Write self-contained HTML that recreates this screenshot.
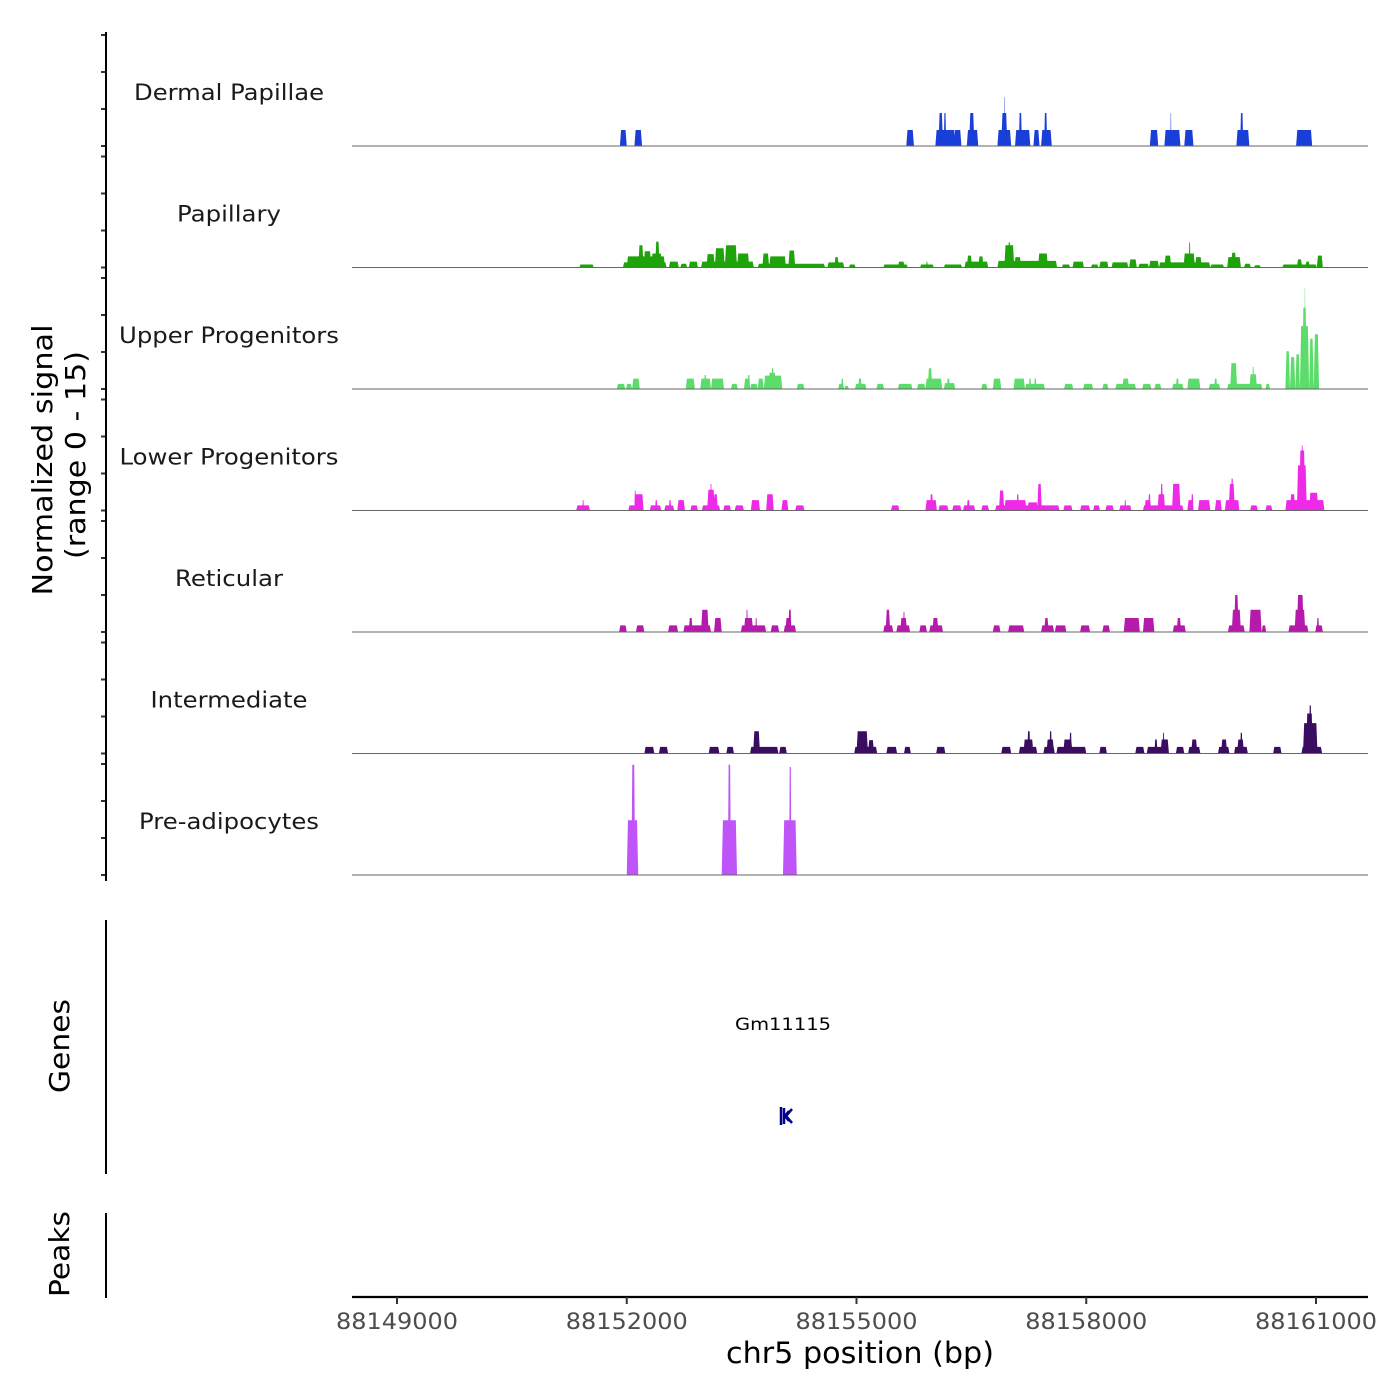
<!DOCTYPE html>
<html><head><meta charset="utf-8"><style>
html,body{margin:0;padding:0;background:#fff;}
svg{display:block;font-family:"DejaVu Sans","Liberation Sans",sans-serif;}
</style></head><body>
<svg id="chart" width="1400" height="1400" viewBox="0 0 1400 1400">
<g id="tracks"></g>
<g id="axes"></g>
<text x="0" y="0" transform="translate(52,460) rotate(-90)" text-anchor="middle" font-size="28" fill="#000" textLength="271" lengthAdjust="spacingAndGlyphs">Normalized signal</text>
<text x="0" y="0" transform="translate(85,455) rotate(-90)" text-anchor="middle" font-size="28" fill="#000" textLength="208" lengthAdjust="spacingAndGlyphs">(range 0 - 15)</text>
<text x="0" y="0" transform="translate(69,1046) rotate(-90)" text-anchor="middle" font-size="28" fill="#000" textLength="94" lengthAdjust="spacingAndGlyphs">Genes</text>
<text x="0" y="0" transform="translate(69,1254) rotate(-90)" text-anchor="middle" font-size="28" fill="#000" textLength="86" lengthAdjust="spacingAndGlyphs">Peaks</text>
<line x1="106" y1="920" x2="106" y2="1174" stroke="#000" stroke-width="2"/>
<line x1="106" y1="1213" x2="106" y2="1298" stroke="#000" stroke-width="2"/>
<text x="783" y="1030" text-anchor="middle" font-size="17" fill="#000" textLength="96" lengthAdjust="spacingAndGlyphs">Gm11115</text>
<g stroke="#00008b" stroke-width="2.5" fill="none">
<line x1="781" y1="1107" x2="781" y2="1125"/>
<line x1="784" y1="1108" x2="784" y2="1124"/>
<polyline points="792,1109 786,1116 792,1123"/>
<polyline points="789,1111 785,1116 789,1121"/>
</g>
<text x="860" y="1363" text-anchor="middle" font-size="29" fill="#000" textLength="268" lengthAdjust="spacingAndGlyphs">chr5 position (bp)</text>
</svg>
<script>
const trackNames = ["Dermal Papillae","Papillary","Upper Progenitors","Lower Progenitors","Reticular","Intermediate","Pre-adipocytes"];
const trackColors = ["#1a3fd9","#1fa30a","#5cdc6a","#ee2ae8","#b51aab","#3b0d60","#bf55f8"];
const labelWidths = [190,104,220,219,108,157,180];
const xTicks = [88149000,88152000,88155000,88158000,88161000];
const yTicks = [0,5,10,15];
// blocks: [start kb, end kb, value]
const dermal = [[88151.91,88152.00,2.16],[88152.10,88152.20,2.16],[88155.65,88155.75,2.16],[88156.03,88156.29,2.16],[88156.07,88156.13,4.46],[88156.14,88156.17,4.46],[88156.27,88156.37,2.16],[88156.44,88156.59,2.16],[88156.47,88156.54,4.46],[88156.84,88157.02,2.16],[88156.89,88156.97,4.46],[88156.93,88156.94,6.62],[88157.07,88157.27,2.16],[88157.12,88157.16,4.46],[88157.31,88157.39,2.16],[88157.41,88157.55,2.16],[88157.45,88157.49,4.46],[88158.83,88158.94,2.16],[88159.02,88159.23,2.16],[88159.10,88159.11,4.46],[88159.28,88159.40,2.16],[88159.96,88160.13,2.16],[88160.01,88160.05,4.46],[88160.74,88160.95,2.16]];
const papillary = [[88151.38,88151.57,0.4],[88151.95,88152.52,0.7],[88152.00,88152.50,1.5],[88152.15,88152.22,3.0],[88152.22,88152.32,2.2],[88152.37,88152.43,3.5],[88152.32,88152.46,1.9],[88152.55,88152.68,0.8],[88152.70,88152.79,0.5],[88152.81,88152.93,0.8],[88152.97,88153.66,0.8],[88153.04,88153.15,1.8],[88153.15,88153.28,2.6],[88153.28,88153.44,3.0],[88153.44,88153.60,1.9],[88153.71,88154.59,0.5],[88153.77,88153.86,1.9],[88153.86,88154.08,1.5],[88154.11,88154.20,2.3],[88154.62,88154.84,0.7],[88154.71,88154.77,1.4],[88154.90,88154.99,0.4],[88155.35,88155.67,0.4],[88155.54,88155.63,0.8],[88155.83,88156.01,0.4],[88155.91,88155.93,0.8],[88156.14,88156.38,0.4],[88156.41,88156.72,0.8],[88156.44,88156.51,1.6],[88156.59,88156.66,1.5],[88156.84,88157.62,0.9],[88156.93,88157.06,3.0],[88156.98,88157.01,3.4],[88157.06,88157.15,1.4],[88157.33,88157.59,0.8],[88157.37,88157.50,1.9],[88157.68,88157.79,0.4],[88157.82,88157.97,0.8],[88158.06,88158.16,0.4],[88158.17,88158.29,0.8],[88158.33,88158.55,0.7],[88158.56,88158.66,1.1],[88158.68,88158.82,0.5],[88158.82,88158.95,0.9],[88158.95,88159.62,0.7],[88159.02,88159.11,1.6],[88159.27,88159.42,1.9],[88159.34,88159.36,3.4],[88159.42,88159.51,1.4],[88159.62,88159.80,0.4],[88159.84,88160.02,1.4],[88159.89,88159.96,2.0],[88160.06,88160.15,0.5],[88160.19,88160.28,0.3],[88160.56,88161.01,0.4],[88160.75,88160.82,1.1],[88160.86,88160.92,0.8],[88161.01,88161.09,1.6]];
const upper = [[88151.87,88151.98,0.7],[88151.99,88152.07,0.7],[88152.07,88152.17,1.4],[88152.77,88152.89,1.4],[88152.96,88153.10,1.4],[88153.01,88153.04,1.9],[88153.10,88153.27,1.4],[88153.36,88153.45,0.7],[88153.53,88153.61,1.4],[88153.58,88153.61,1.9],[88153.61,88153.71,0.7],[88153.71,88153.79,1.4],[88153.79,88154.03,1.8],[88153.85,88153.95,2.2],[88153.89,88153.92,2.8],[88154.22,88154.32,0.7],[88154.76,88154.84,0.7],[88154.80,88154.83,1.4],[88154.84,88154.90,0.4],[88154.98,88155.13,0.7],[88155.02,88155.07,1.4],[88155.26,88155.36,0.7],[88155.54,88155.73,0.7],[88155.79,88155.90,0.7],[88155.90,88156.12,1.4],[88155.93,88155.99,2.8],[88156.14,88156.29,0.8],[88156.18,88156.22,1.4],[88156.63,88156.71,0.7],[88156.78,88156.89,1.4],[88157.05,88157.20,1.4],[88157.20,88157.46,0.7],[88157.25,88157.28,1.4],[88157.32,88157.35,1.4],[88157.71,88157.83,0.7],[88157.96,88158.09,0.7],[88158.21,88158.29,0.7],[88158.38,88158.65,0.7],[88158.47,88158.56,1.4],[88158.73,88158.85,0.7],[88158.89,88158.98,0.7],[88159.12,88159.27,0.7],[88159.17,88159.21,1.4],[88159.32,88159.49,1.4],[88159.60,88159.75,0.7],[88159.67,88159.71,1.4],[88159.84,88160.30,0.7],[88159.88,88159.97,3.5],[88160.13,88160.23,2.0],[88160.17,88160.19,3.0],[88160.34,88160.40,0.7],[88160.60,88160.66,5.1],[88160.66,88160.73,4.3],[88160.73,88160.79,4.7],[88160.79,88160.91,8.5],[88160.82,88160.88,11.0],[88160.85,88160.86,13.6],[88160.91,88160.97,6.8],[88160.97,88161.04,7.4]];
const lower = [[88151.34,88151.52,0.7],[88151.42,88151.44,1.4],[88152.02,88152.22,0.7],[88152.10,88152.22,2.2],[88152.10,88152.12,2.7],[88152.30,88152.45,0.7],[88152.37,88152.40,1.4],[88152.49,88152.62,0.7],[88152.55,88152.58,1.4],[88152.66,88152.76,1.4],[88152.83,88152.93,0.7],[88152.98,88153.22,0.7],[88153.05,88153.15,2.8],[88153.09,88153.11,3.6],[88153.13,88153.19,2.2],[88153.26,88153.36,0.7],[88153.41,88153.53,0.7],[88153.62,88153.74,1.4],[88153.82,88153.92,2.2],[88154.02,88154.11,1.4],[88154.20,88154.32,0.7],[88155.45,88155.56,0.7],[88155.90,88156.05,1.4],[88155.96,88156.00,2.2],[88156.07,88156.20,0.7],[88156.25,88156.37,0.7],[88156.39,88156.55,0.7],[88156.44,88156.48,1.4],[88156.63,88156.73,0.7],[88156.81,88157.65,0.7],[88156.86,88156.93,2.7],[88156.93,88157.22,1.4],[88157.09,88157.12,2.2],[88157.23,88157.37,1.1],[88157.36,88157.42,3.6],[88157.70,88157.82,0.7],[88157.92,88158.05,0.7],[88158.09,88158.18,0.7],[88158.25,88158.36,0.7],[88158.43,88158.59,0.7],[88158.50,88158.52,1.4],[88158.74,88159.27,0.7],[88158.76,88158.85,1.4],[88158.81,88158.84,2.2],[88158.93,88159.03,2.2],[88158.97,88159.00,3.6],[88159.12,88159.23,3.6],[88159.32,88159.40,1.4],[88159.37,88159.40,2.2],[88159.46,88159.62,1.4],[88159.68,88159.77,1.4],[88159.81,88160.00,1.4],[88159.86,88159.94,3.6],[88159.89,88159.92,4.3],[88160.14,88160.24,0.7],[88160.34,88160.43,0.7],[88160.60,88161.11,1.4],[88160.66,88160.73,2.2],[88160.75,88160.88,6.1],[88160.78,88160.86,8.1],[88160.81,88160.83,8.8],[88160.91,88161.03,2.4],[88161.03,88161.11,1.1]];
const reticular = [[88151.90,88152.00,0.9],[88152.12,88152.23,0.9],[88152.54,88152.67,0.9],[88152.74,88153.10,0.9],[88152.81,88152.86,1.9],[88152.97,88153.07,3.0],[88153.14,88153.24,1.9],[88153.49,88153.82,0.9],[88153.53,88153.65,1.9],[88153.56,88153.58,3.0],[88153.68,88153.70,1.9],[88153.88,88153.99,0.9],[88154.05,88154.21,0.9],[88154.07,88154.15,1.9],[88154.11,88154.15,3.0],[88155.35,88155.48,0.9],[88155.38,88155.44,3.0],[88155.52,88155.70,0.9],[88155.57,88155.66,1.9],[88155.61,88155.63,2.7],[88155.82,88155.92,0.9],[88155.95,88156.13,0.9],[88155.99,88156.07,1.9],[88156.78,88156.88,0.9],[88156.98,88157.19,0.9],[88157.41,88157.58,0.9],[88157.45,88157.51,1.9],[88157.59,88157.74,0.9],[88157.92,88158.05,0.9],[88158.21,88158.31,0.9],[88158.49,88158.70,1.9],[88158.74,88158.89,1.9],[88159.13,88159.30,0.9],[88159.18,88159.24,1.9],[88159.85,88160.07,0.9],[88159.90,88160.02,3.0],[88159.93,88159.99,5.0],[88160.13,88160.29,3.0],[88160.29,88160.35,0.9],[88160.64,88160.90,0.9],[88160.72,88160.86,3.0],[88160.75,88160.84,5.0],[88160.99,88161.09,0.9],[88161.01,88161.04,1.9]];
const intermediate = [[88152.23,88152.36,0.9],[88152.42,88152.54,0.9],[88153.07,88153.21,0.9],[88153.30,88153.40,0.9],[88153.61,88153.98,0.9],[88153.65,88153.74,3.0],[88153.99,88154.09,0.9],[88154.97,88155.27,0.9],[88155.00,88155.15,3.0],[88155.15,88155.23,1.8],[88155.39,88155.53,0.9],[88155.62,88155.71,0.9],[88156.04,88156.16,0.9],[88156.89,88157.02,0.9],[88157.12,88157.36,0.9],[88157.18,88157.31,1.9],[88157.23,88157.27,3.0],[88157.44,88157.59,0.9],[88157.48,88157.58,1.9],[88157.52,88157.55,3.0],[88157.61,88158.00,0.9],[88157.70,88157.82,1.9],[88157.78,88157.81,2.8],[88158.17,88158.27,0.9],[88158.64,88158.76,0.9],[88158.79,88159.08,0.9],[88158.89,88158.93,1.9],[88158.97,88159.08,1.9],[88159.00,88159.02,2.8],[88159.17,88159.28,0.9],[88159.33,88159.49,0.9],[88159.37,88159.45,1.9],[88159.72,88159.87,0.9],[88159.76,88159.84,1.9],[88159.93,88160.11,0.9],[88159.97,88160.06,1.9],[88160.01,88160.04,2.8],[88160.44,88160.55,0.9],[88160.81,88161.08,0.9],[88160.83,88161.02,4.1],[88160.87,88160.96,5.4],[88160.91,88160.94,6.5]];
const preadipocytes = [[88152.00,88152.15,7.4],[88152.06,88152.11,14.9],[88153.24,88153.44,7.4],[88153.32,88153.36,14.9],[88154.04,88154.22,7.4],[88154.12,88154.15,14.6]];
const trackData = [dermal,papillary,upper,lower,reticular,intermediate,preadipocytes];

const NS = "http://www.w3.org/2000/svg";
const X0 = 352, X1 = 1368;
function xScale(bp){ return 397 + (bp - 88149000) * (919 / 12000); }
function kbX(kb){ return xScale(kb * 1000); }
function baseY(i){ return 146 + i * 121.5; }
function yScale(i, v){ return baseY(i) - v * (111 / 15); }
function mk(tag, attrs, parent){ const e = document.createElementNS(NS, tag); for (const k in attrs) e.setAttribute(k, attrs[k]); parent.appendChild(e); return e; }

const tracks = document.getElementById('tracks');
const axes = document.getElementById('axes');

trackData.forEach(function(blocks, i){
  const g = mk('g', {}, tracks);
  
  
  const b = baseY(i);
  let d = '';
  blocks.forEach(function(bl){
    const xa = kbX(bl[0]), xb = kbX(bl[1]);
    const yt = yScale(i, bl[2]);
    const s = Math.min(1.2, (xb - xa) / 4);
    d += 'M' + xa.toFixed(2) + ',' + b + 'L' + (xa + s).toFixed(2) + ',' + yt.toFixed(2) + 'L' + (xb - s).toFixed(2) + ',' + yt.toFixed(2) + 'L' + xb.toFixed(2) + ',' + b + 'Z';
  });
  const p = mk('path', {d: d, fill: trackColors[i], stroke: 'none'}, g);
  
  
  const bl = mk('line', {x1: X0, x2: X1, y1: b, y2: b, stroke: '#666', 'stroke-width': 1}, g);
  
  
  const t = mk('text', {x: 229, y: b - 46, 'text-anchor': 'middle', 'font-size': 22, fill: '#1a1a1a', textLength: labelWidths[i], lengthAdjust: 'spacingAndGlyphs'}, g);
  t.textContent = trackNames[i];
  
  
  yTicks.forEach(function(v){
    const ty = yScale(i, v);
    const tk = mk('line', {x1: 101, x2: 106, y1: ty, y2: ty, stroke: '#333', 'stroke-width': 2}, axes);
    
    
  });
});

const yl = mk('line', {x1: 106, x2: 106, y1: 32, y2: 881, stroke: '#000', 'stroke-width': 2}, axes);



const xl = mk('line', {x1: X0, x2: X1, y1: 1297, y2: 1297, stroke: '#000', 'stroke-width': 2.2}, axes);


xTicks.forEach(function(v){
  const x = xScale(v);
  const tk = mk('line', {x1: x, x2: x, y1: 1297, y2: 1304, stroke: '#333', 'stroke-width': 2}, axes);
  
  
  const tl = mk('text', {x: x, y: 1329, 'text-anchor': 'middle', 'font-size': 22, fill: '#4d4d4d', textLength: 122, lengthAdjust: 'spacingAndGlyphs'}, axes);
  tl.textContent = String(v);
  
  
});
</script>
</body></html>
